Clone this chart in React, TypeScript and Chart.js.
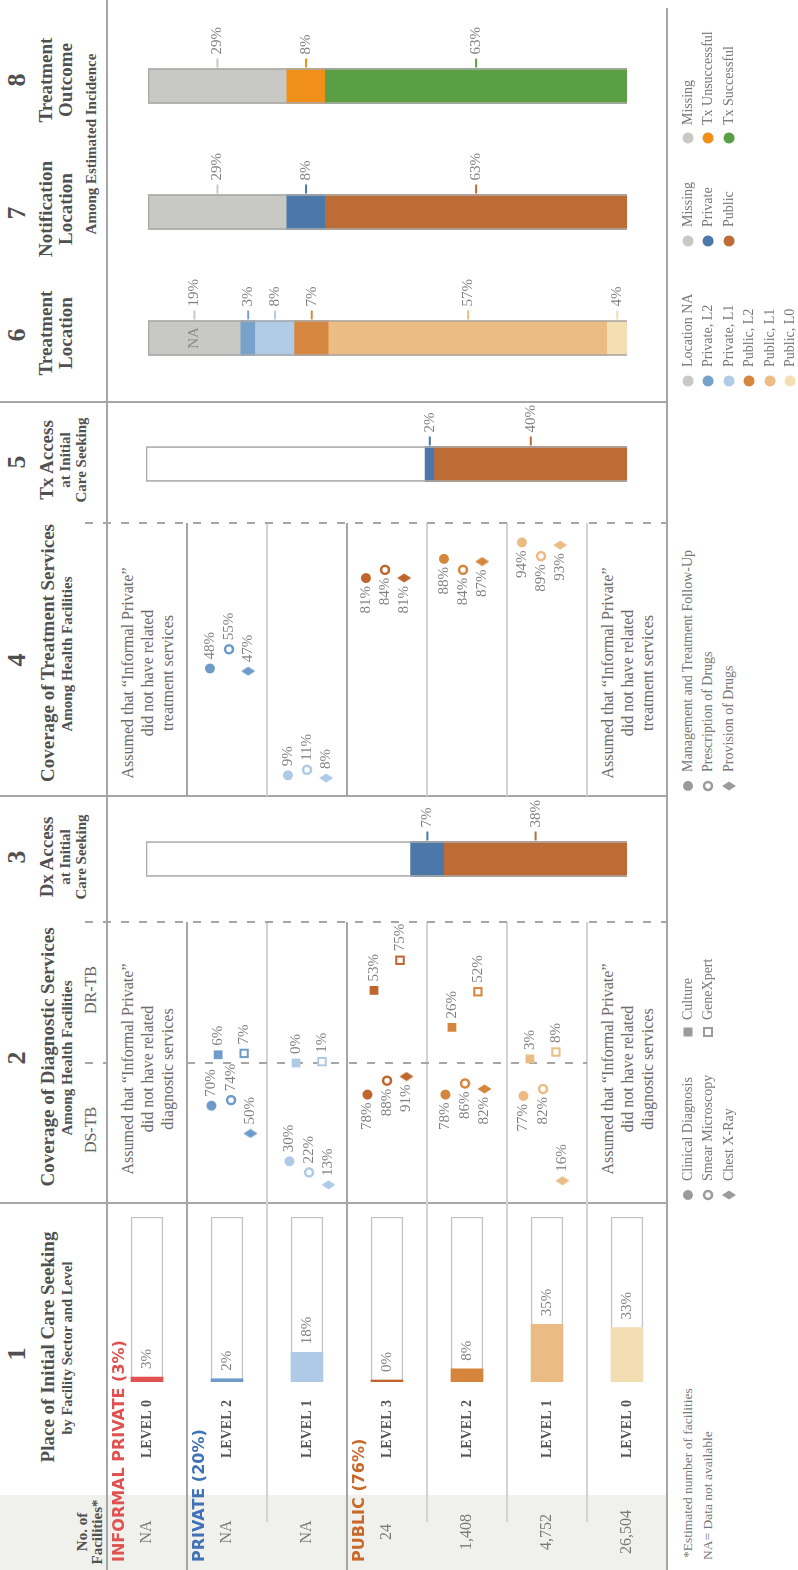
import React, { useEffect, useRef } from 'react';
import { Chart, registerables } from 'chart.js';

Chart.register(...registerables);

const SERIF = '"Liberation Serif", "Times New Roman", serif';
const SANS = '"DejaVu Sans", "Liberation Sans", sans-serif';

// ---------------- DATA ----------------
const ROW_LEVELS = ['LEVEL 0', 'LEVEL 2', 'LEVEL 1', 'LEVEL 3', 'LEVEL 2', 'LEVEL 1', 'LEVEL 0'];
const FACILITY_COUNTS = ['NA', 'NA', 'NA', '24', '1,408', '4,752', '26,504'];
const CARE_SEEKING = [3, 2, 18, 0, 8, 35, 33];
const SECTOR_NAMES = ['INFORMAL PRIVATE', 'PRIVATE', 'PUBLIC'];
const SECTOR_SHARES = [3, 20, 76];
const SECTOR_FIRST_ROW = [0, 1, 3];

const DS_CLINICAL = [null, 70, 30, 78, 78, 77, null];
const DS_SMEAR = [null, 74, 22, 88, 86, 82, null];
const DS_XRAY = [null, 50, 13, 91, 82, 16, null];
const DR_CULTURE = [null, 6, 0, 53, 26, 3, null];
const DR_GENEXPERT = [null, 7, 1, 75, 52, 8, null];

const TX_MANAGEMENT = [null, 48, 9, 81, 88, 94, null];
const TX_PRESCRIPTION = [null, 55, 11, 84, 84, 89, null];
const TX_PROVISION = [null, 47, 8, 81, 87, 93, null];

const DX_ACCESS = [7, 38]; // Private, Public
const TX_ACCESS = [2, 40]; // Private, Public
const TREAT_LOC_LABELS = ['Location NA', 'Private, L2', 'Private, L1', 'Public, L2', 'Public, L1', 'Public, L0'];
const TREAT_LOC = [19, 3, 8, 7, 57, 4];
const NOTIF_LABELS = ['Missing', 'Private', 'Public'];
const NOTIF = [29, 8, 63];
const OUTCOME_LABELS = ['Missing', 'Tx Unsuccessful', 'Tx Successful'];
const OUTCOME = [29, 8, 63];

const DX_LEGEND = ['Clinical Diagnosis', 'Smear Microscopy', 'Chest X-Ray'];
const DR_LEGEND = ['Culture', 'GeneXpert'];
const TX_LEGEND = ['Management and Treatment Follow-Up', 'Prescription of Drugs', 'Provision of Drugs'];
const ASSUMED_DX = ['Assumed that \u201cInformal Private\u201d', 'did not have related', 'diagnostic services'];
const ASSUMED_TX = ['Assumed that \u201cInformal Private\u201d', 'did not have related', 'treatment services'];

// ---------------- COLOURS ----------------
const ROW_COLORS = ['#e0524f', '#6e9bc9', '#aecae6', '#c0652d', '#d6853d', '#eabc84', '#f3ddb2'];
const SECTOR_COLORS = ['#e0524f', '#3f73b5', '#c8692a'];
const ACCESS_COLORS = ['#4b78a8', '#bd6c35'];
const TREAT_LOC_COLORS = ['#c8c8c4', '#77a3cb', '#b0cbe6', '#d6873f', '#ebbd85', '#f3dfb3'];
const NOTIF_COLORS = ['#c8c8c4', '#4b78a8', '#bd6c35'];
const OUTCOME_COLORS = ['#c8c8c4', '#f0901a', '#5a9f44'];
const LEG_GREY = '#9b9b9b';
const DARK_LINE = '#a6a6a6';
const LIGHT_LINE = '#d3d3d3';
const HEAD = '#505050';
const LABEL = '#808080';

// ---------------- LAYOUT ----------------
const TOP = 107;
const ROW_H = 80;
const N = 7;
const BOTTOM = TOP + N * ROW_H;

const baseOptions = (scales: any, padding: any = 0) => ({
  responsive: false,
  maintainAspectRatio: false,
  animation: false,
  devicePixelRatio: 1,
  events: [],
  layout: { padding },
  plugins: { legend: { display: false }, tooltip: { enabled: false } },
  scales,
});

const diamondCache: Record<string, HTMLCanvasElement> = {};
function diamondImage(color: string) {
  if (!diamondCache[color]) {
    const c = document.createElement('canvas');
    c.width = 10;
    c.height = 15;
    const g = c.getContext('2d')!;
    g.fillStyle = color;
    g.beginPath();
    g.moveTo(5, 0.5);
    g.lineTo(9.5, 7.5);
    g.lineTo(5, 14.5);
    g.lineTo(0.5, 7.5);
    g.closePath();
    g.fill();
    diamondCache[color] = c;
  }
  return diamondCache[color];
}

function makeCareChart(canvas: HTMLCanvasElement) {
  const labels = {
    id: 'careLabels',
    afterDatasetsDraw(chart: any) {
      const { ctx } = chart;
      const ys = chart.scales.y;
      const half = (ys.getPixelForValue(1) - ys.getPixelForValue(0)) / 2;
      const bars = chart.getDatasetMeta(0).data;
      ctx.save();
      ctx.textBaseline = 'middle';
      ROW_LEVELS.forEach((lvl, i) => {
        const yc = ys.getPixelForValue(i);
        ctx.textAlign = 'center';
        ctx.font = `16px ${SERIF}`;
        ctx.fillStyle = '#7a7a7a';
        ctx.fillText(FACILITY_COUNTS[i], 38, yc);
        ctx.font = `bold 14px ${SERIF}`;
        ctx.fillStyle = '#555';
        ctx.fillText(lvl, 141, yc);
        ctx.textAlign = 'left';
        ctx.font = `15px ${SERIF}`;
        ctx.fillStyle = LABEL;
        ctx.fillText(`${CARE_SEEKING[i]}%`, bars[i].x + 8, bars[i].y);
      });
      ctx.font = `bold 16px ${SANS}`;
      ctx.textAlign = 'left';
      SECTOR_NAMES.forEach((name, s) => {
        const top = ys.getPixelForValue(SECTOR_FIRST_ROW[s]) - half;
        ctx.fillStyle = SECTOR_COLORS[s];
        ctx.fillText(`${name} (${SECTOR_SHARES[s]}%)`, 8, top + 13);
      });
      ctx.restore();
    },
  };
  return new Chart(canvas, {
    type: 'bar',
    data: {
      labels: ROW_LEVELS,
      datasets: [
        { data: CARE_SEEKING, backgroundColor: ROW_COLORS, barThickness: 32, grouped: false, order: 1, minBarLength: 2, borderWidth: 0 } as any,
        { data: CARE_SEEKING.map(() => 100), backgroundColor: '#ffffff', borderColor: '#c2c2c2', borderWidth: 1.5, barThickness: 32, grouped: false, order: 2 } as any,
      ],
    },
    options: { ...baseOptions({ x: { display: false, min: 0, max: 100 }, y: { display: false } }, { left: 188, right: 14, top: 0, bottom: 0 }), indexAxis: 'y' } as any,
    plugins: [labels],
  });
}

function makeMarkerChart(canvas: HTMLCanvasElement, series: any[], fracs: number[], leftAbove: number, pad: number) {
  const datasets = series.map((s, k) => {
    const pts: any[] = [];
    s.values.forEach((v: number | null, i: number) => {
      if (v !== null) pts.push({ x: v, y: i + fracs[k], row: i });
    });
    const open = s.kind === 'ring' || s.kind === 'box';
    const col = (c: any) => (c && c.raw ? ROW_COLORS[c.raw.row] : LEG_GREY);
    const radius: any = { dot: 5, ring: 4, diamond: 7, square: 6.2, box: 5.2 };
    return {
      data: pts,
      clip: false,
      showLine: false,
      pointStyle: s.kind === 'diamond' ? (c: any) => diamondImage(col(c)) : s.kind === 'dot' || s.kind === 'ring' ? 'circle' : 'rect',
      pointRadius: radius[s.kind],
      pointHoverRadius: radius[s.kind],
      pointBackgroundColor: (c: any) => (open ? '#ffffff' : col(c)),
      pointBorderColor: col,
      pointBorderWidth: open ? (s.kind === 'ring' ? 2.5 : 2) : 0,
    };
  });
  const labels = {
    id: 'markerLabels',
    afterDatasetsDraw(chart: any) {
      const { ctx } = chart;
      ctx.save();
      ctx.font = `15px ${SERIF}`;
      ctx.fillStyle = LABEL;
      ctx.textBaseline = 'middle';
      chart.data.datasets.forEach((ds: any, di: number) => {
        chart.getDatasetMeta(di).data.forEach((el: any, j: number) => {
          const v = ds.data[j].x;
          const left = v > leftAbove;
          ctx.textAlign = left ? 'right' : 'left';
          ctx.fillText(`${v}%`, el.x + (left ? -8 : 9), el.y);
        });
      });
      ctx.restore();
    },
  };
  return new Chart(canvas, {
    type: 'scatter',
    data: { datasets } as any,
    options: baseOptions(
      { x: { type: 'linear', display: false, min: 0, max: 100 }, y: { type: 'linear', display: false, min: 0, max: N, reverse: true } },
      { left: pad, right: pad, top: 0, bottom: 0 }
    ) as any,
    plugins: [labels],
  });
}

function makeStackChart(canvas: HTMLCanvasElement, values: number[], colors: string[], max: number, inner = '') {
  const segs = values
    .map((v, i) => ({ data: [v], backgroundColor: colors[i], stack: 's', order: 1, barThickness: 35, borderWidth: 0, segIndex: i }))
    .reverse();
  const frame = { data: [max], stack: 'f', grouped: false, order: 0, barThickness: 35, backgroundColor: 'rgba(0,0,0,0)', borderColor: '#a9a9a9', borderWidth: 1 };
  const labels = {
    id: 'stackLabels',
    afterDatasetsDraw(chart: any) {
      const { ctx } = chart;
      ctx.save();
      ctx.textBaseline = 'middle';
      chart.data.datasets.forEach((ds: any, di: number) => {
        if (ds.segIndex === undefined) return;
        const el = chart.getDatasetMeta(di).data[0];
        const cy = (el.y + el.base) / 2;
        const right = el.x + el.width / 2;
        ctx.strokeStyle = colors[ds.segIndex];
        ctx.lineWidth = 2;
        ctx.beginPath();
        ctx.moveTo(right + 1, cy);
        ctx.lineTo(right + 10, cy);
        ctx.stroke();
        ctx.font = `15px ${SERIF}`;
        ctx.fillStyle = LABEL;
        ctx.textAlign = 'left';
        ctx.fillText(`${values[ds.segIndex]}%`, right + 14, cy);
        if (ds.segIndex === 0 && inner) {
          ctx.textAlign = 'center';
          ctx.fillStyle = '#8a8a8a';
          ctx.fillText(inner, el.x, cy);
        }
      });
      ctx.restore();
    },
  };
  return new Chart(canvas, {
    type: 'bar',
    data: { labels: [''], datasets: [...segs, frame] } as any,
    options: baseOptions({
      x: { type: 'category', display: false, stacked: true },
      y: { type: 'linear', display: false, stacked: true, min: 0, max },
    }) as any,
    plugins: [labels],
  });
}

const sum = (a: number[]) => a.reduce((s, v) => s + v, 0);

// ---------------- COMPONENTS ----------------
function ChartBox({ x, y, w, h, make }: any) {
  const ref = useRef<HTMLCanvasElement>(null);
  useEffect(() => {
    const chart = make(ref.current);
    return () => chart.destroy();
  }, []);
  return <canvas ref={ref} width={w} height={h} style={{ position: 'absolute', left: x, top: y, width: w, height: h }} />;
}

function Box({ x, y, w, h, bg }: any) {
  return <div style={{ position: 'absolute', left: x, top: y, width: w, height: h, background: bg }} />;
}

function DashV({ x, y1, y2 }: any) {
  return (
    <div
      style={{
        position: 'absolute',
        left: x - 1,
        top: y1,
        width: 2,
        height: y2 - y1,
        background: `repeating-linear-gradient(to bottom, ${DARK_LINE} 0px, ${DARK_LINE} 8px, transparent 8px, transparent 18px)`,
      }}
    />
  );
}

function Txt({ x, y, text, size, bold = false, align = 'center', color = HEAD, font = SERIF }: any) {
  const tx = align === 'center' ? '-50%' : align === 'right' ? '-100%' : '0';
  return (
    <div
      style={{
        position: 'absolute',
        left: x,
        top: y,
        transform: `translate(${tx}, -50%)`,
        font: `${bold ? 'bold ' : ''}${size}px ${font}`,
        color,
        whiteSpace: 'nowrap',
        lineHeight: 1,
      }}
    >
      {text}
    </div>
  );
}

function Mark({ x, y, kind, color, r = 5 }: any) {
  return (
    <svg style={{ position: 'absolute', left: x - 8, top: y - 8 }} width={16} height={16}>
      {kind === 'dot' && <circle cx={8} cy={8} r={r} fill={color} />}
      {kind === 'ring' && <circle cx={8} cy={8} r={4} fill="#fff" stroke={color} strokeWidth={2.5} />}
      {kind === 'diamond' && <polygon points="8,1 12.5,8 8,15 3.5,8" fill={color} />}
      {kind === 'square' && <rect x={3.5} y={3.5} width={9} height={9} fill={color} />}
      {kind === 'box' && <rect x={4} y={4} width={8} height={8} fill="#fff" stroke={color} strokeWidth={2} />}
    </svg>
  );
}

function LegendList({ mx, tx, y0, labels, kinds, colors, r = 5 }: any) {
  return (
    <>
      {labels.map((l: string, k: number) => (
        <React.Fragment key={k}>
          <Mark x={mx} y={y0 + k * 20.4} kind={kinds ? kinds[k] : 'dot'} color={colors ? colors[k] : LEG_GREY} r={r} />
          <Txt x={tx} y={y0 + k * 20.4} text={l} size={14} align="left" color="#777" />
        </React.Fragment>
      ))}
    </>
  );
}

function RowLines({ x1, x2, lightStart }: any) {
  const out: any[] = [];
  for (let i = 1; i < N; i++) {
    const dark = i === 1 || i === 3;
    const xs = dark ? x1 : lightStart ?? x1;
    out.push(<Box key={i} x={xs} y={TOP + i * ROW_H - 1} w={x2 - xs} h={2} bg={dark ? DARK_LINE : LIGHT_LINE} />);
  }
  return <>{out}</>;
}

export default function App() {
  const dsSeries = [
    { values: DS_CLINICAL, kind: 'dot' },
    { values: DS_SMEAR, kind: 'ring' },
    { values: DS_XRAY, kind: 'diamond' },
  ];
  const drSeries = [
    { values: DR_CULTURE, kind: 'square' },
    { values: DR_GENEXPERT, kind: 'box' },
  ];
  const txSeries = [
    { values: TX_MANAGEMENT, kind: 'dot' },
    { values: TX_PRESCRIPTION, kind: 'ring' },
    { values: TX_PROVISION, kind: 'diamond' },
  ];

  return (
    <div style={{ position: 'fixed', left: 0, top: 0, width: 798, height: 1570, overflow: 'hidden', background: '#fff' }}>
      <div
        style={{
          position: 'absolute',
          left: 0,
          top: 0,
          width: 1570,
          height: 798,
          transformOrigin: '0 0',
          transform: 'translateY(1570px) rotate(-90deg)',
          background: '#fff',
        }}
      >
        {/* grey facilities column */}
        <Box x={0} y={0} w={75} h={BOTTOM} bg="#f0f0ed" />

        {/* structural lines */}
        <Box x={0} y={TOP - 1} w={1570} h={2} bg={DARK_LINE} />
        <Box x={0} y={BOTTOM - 1} w={1562} h={2} bg={DARK_LINE} />
        <Box x={366} y={0} w={2} h={BOTTOM} bg={DARK_LINE} />
        <Box x={773} y={0} w={2} h={BOTTOM} bg={DARK_LINE} />
        <Box x={1167} y={0} w={2} h={BOTTOM} bg={DARK_LINE} />
        <RowLines x1={0} x2={367} lightStart={48} />
        <RowLines x1={367} x2={648} />
        <RowLines x1={774} x2={1047} />
        <DashV x={507} y1={85} y2={TOP} />
        <DashV x={507} y1={TOP + ROW_H} y2={TOP + (N - 1) * ROW_H} />
        <DashV x={648} y1={85} y2={BOTTOM} />
        <DashV x={1047} y1={85} y2={BOTTOM} />

        {/* headers */}
        <Txt x={38} y={82} text="No. of" size={15} bold />
        <Txt x={38} y={97} text="Facilities*" size={15} bold />

        <Txt x={216} y={17} text="1" size={26} bold />
        <Txt x={223} y={47} text="Place of Initial Care Seeking" size={19} bold />
        <Txt x={222} y={67} text="by Facility Sector and Level" size={14.5} bold />

        <Txt x={512} y={17} text="2" size={26} bold />
        <Txt x={513} y={47} text="Coverage of Diagnostic Services" size={19} bold />
        <Txt x={512} y={67} text="Among Health Facilities" size={15} bold />
        <Txt x={440} y={91} text="DS-TB" size={16} color="#666" />
        <Txt x={580} y={91} text="DR-TB" size={16} color="#666" />

        <Txt x={713} y={17} text="3" size={26} bold />
        <Txt x={713} y={46} text="Dx Access" size={19} bold />
        <Txt x={713} y={65} text="at Initial" size={15} bold />
        <Txt x={713} y={81} text="Care Seeking" size={15} bold />

        <Txt x={910} y={17} text="4" size={26} bold />
        <Txt x={917} y={47} text="Coverage of Treatment Services" size={19} bold />
        <Txt x={916} y={67} text="Among Health Facilities" size={15} bold />

        <Txt x={1108} y={17} text="5" size={26} bold />
        <Txt x={1110} y={46} text="Tx Access" size={19} bold />
        <Txt x={1110} y={65} text="at Initial" size={15} bold />
        <Txt x={1110} y={81} text="Care Seeking" size={15} bold />

        <Txt x={1235} y={17} text="6" size={26} bold />
        <Txt x={1237} y={45} text="Treatment" size={19} bold />
        <Txt x={1237} y={65} text="Location" size={19} bold />

        <Txt x={1357} y={17} text="7" size={26} bold />
        <Txt x={1361} y={45} text="Notification" size={19} bold />
        <Txt x={1361} y={65} text="Location" size={19} bold />

        <Txt x={1490} y={17} text="8" size={26} bold />
        <Txt x={1490} y={45} text="Treatment" size={19} bold />
        <Txt x={1490} y={65} text="Outcome" size={19} bold />
        <Txt x={1426} y={91} text="Among Estimated Incidence" size={15} bold />

        {/* "assumed" notes */}
        {[0, N - 1].map((row) =>
          [0, 1, 2].map((k) => (
            <React.Fragment key={`${row}-${k}`}>
              <Txt x={501} y={TOP + row * ROW_H + 21 + k * 20} text={ASSUMED_DX[k]} size={16} color="#6a6a6a" />
              <Txt x={897} y={TOP + row * ROW_H + 21 + k * 20} text={ASSUMED_TX[k]} size={16} color="#6a6a6a" />
            </React.Fragment>
          ))
        )}

        {/* charts */}
        <ChartBox x={0} y={TOP} w={367} h={N * ROW_H} make={makeCareChart} />
        <ChartBox x={347} y={TOP} w={179} h={N * ROW_H} make={(c: any) => makeMarkerChart(c, dsSeries, [0.25, 0.5, 0.75], 75, 20)} />
        <ChartBox x={487} y={TOP} w={177} h={N * ROW_H} make={(c: any) => makeMarkerChart(c, drSeries, [1 / 3, 2 / 3], Infinity, 20)} />
        <ChartBox x={750} y={TOP} w={314} h={N * ROW_H} make={(c: any) => makeMarkerChart(c, txSeries, [0.23, 0.475, 0.72], 75, 20)} />

        <ChartBox x={711 - 70} y={146} w={140} h={481} make={(c: any) => makeStackChart(c, DX_ACCESS, ACCESS_COLORS, 100)} />
        <ChartBox x={1106 - 70} y={146} w={140} h={481} make={(c: any) => makeStackChart(c, TX_ACCESS, ACCESS_COLORS, 100)} />
        <ChartBox x={1232 - 70} y={148} w={140} h={479} make={(c: any) => makeStackChart(c, TREAT_LOC, TREAT_LOC_COLORS, sum(TREAT_LOC), 'NA')} />
        <ChartBox x={1358 - 70} y={148} w={140} h={479} make={(c: any) => makeStackChart(c, NOTIF, NOTIF_COLORS, sum(NOTIF))} />
        <ChartBox x={1484 - 70} y={148} w={140} h={479} make={(c: any) => makeStackChart(c, OUTCOME, OUTCOME_COLORS, sum(OUTCOME))} />

        {/* footnotes & legends */}
        <Txt x={12} y={688} text="*Estimated number of facilities" size={13.5} align="left" color="#777" />
        <Txt x={10} y={708} text="NA= Data not available" size={13.5} align="left" color="#777" />

        <LegendList mx={375} tx={389} y0={688} labels={DX_LEGEND} kinds={['dot', 'ring', 'diamond']} />
        <LegendList mx={538} tx={550} y0={688} labels={DR_LEGEND} kinds={['square', 'box']} />
        <LegendList mx={784} tx={798} y0={688} labels={TX_LEGEND} kinds={['dot', 'ring', 'diamond']} />
        <LegendList mx={1189} tx={1203} y0={688} labels={TREAT_LOC_LABELS} colors={TREAT_LOC_COLORS} r={5.5} />
        <LegendList mx={1329} tx={1343} y0={688} labels={NOTIF_LABELS} colors={NOTIF_COLORS} r={5.5} />
        <LegendList mx={1432} tx={1445} y0={688} labels={OUTCOME_LABELS} colors={OUTCOME_COLORS} r={5.5} />
      </div>
    </div>
  );
}
